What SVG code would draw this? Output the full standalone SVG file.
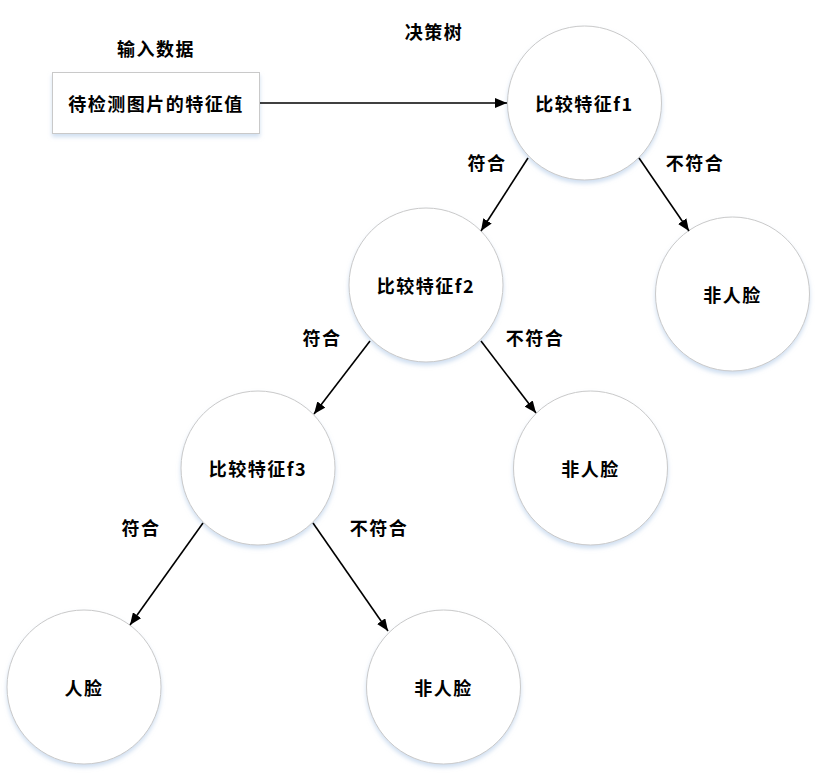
<svg xmlns="http://www.w3.org/2000/svg" width="818" height="775" viewBox="0 0 818 775">
<defs>
<style>
.node circle, .node rect { fill: #ffffff; stroke: #c9c9c9; stroke-width: 1; filter: url(#sh); }
.t { font-family: "Noto Sans CJK SC", "Liberation Serif", serif; font-weight: bold; font-size: 18px; fill: #000; text-anchor: middle; dominant-baseline: central; letter-spacing: 1.5px; }
.edges line { stroke: #000; stroke-width: 1.6; marker-end: url(#ah); }
</style>
<filter id="sh" x="-20%" y="-20%" width="140%" height="150%">
<feDropShadow dx="0" dy="3" stdDeviation="2" flood-color="#a9c4e4" flood-opacity="0.55"/>
</filter>
<marker id="ah" viewBox="0 0 12 10" refX="12" refY="5" markerWidth="12" markerHeight="10" markerUnits="userSpaceOnUse" orient="auto">
<path d="M0,0 L12,5 L0,10 Z" fill="#000"/>
</marker>
</defs>
<rect width="818" height="775" fill="#ffffff"/>
<text class="t" x="156" y="48">输入数据</text>
<text class="t" x="434" y="31">决策树</text>
<g id="input" class="node"><rect x="52.5" y="72.5" width="207" height="61"/><text class="t" x="156" y="103">待检测图片的特征值</text></g>
<g id="f1" class="node"><circle cx="584.5" cy="103" r="77"/><text class="t" x="584.5" y="103">比较特征f1</text></g>
<g id="f2" class="node"><circle cx="426" cy="285" r="77"/><text class="t" x="426" y="285">比较特征f2</text></g>
<g id="nf1" class="node"><circle cx="732.5" cy="294" r="77"/><text class="t" x="732.5" y="294">非人脸</text></g>
<g id="f3" class="node"><circle cx="258" cy="468" r="77"/><text class="t" x="258" y="468">比较特征f3</text></g>
<g id="nf2" class="node"><circle cx="590.5" cy="468" r="77"/><text class="t" x="590.5" y="468">非人脸</text></g>
<g id="face" class="node"><circle cx="84" cy="687" r="77"/><text class="t" x="84" y="687">人脸</text></g>
<g id="nf3" class="node"><circle cx="443.5" cy="687" r="77"/><text class="t" x="443.5" y="687">非人脸</text></g>
<g class="edges">
<line x1="260" y1="103" x2="507" y2="103"/>
<line x1="528" y1="158" x2="481" y2="231"/>
<line x1="639" y1="158" x2="689" y2="231"/>
<line x1="370" y1="341" x2="314" y2="414"/>
<line x1="481" y1="341" x2="536" y2="413"/>
<line x1="203" y1="523" x2="130" y2="625"/>
<line x1="313" y1="523" x2="388" y2="631"/>
</g>
<g id="labels">
<text class="t" x="487" y="162">符合</text>
<text class="t" x="695" y="162">不符合</text>
<text class="t" x="322" y="337">符合</text>
<text class="t" x="535" y="337">不符合</text>
<text class="t" x="141" y="527">符合</text>
<text class="t" x="379" y="527">不符合</text>
</g>
</svg>
